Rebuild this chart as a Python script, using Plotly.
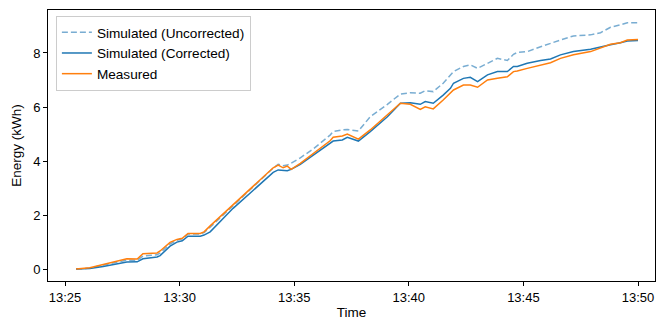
import plotly.graph_objects as go
import pandas as pd

day = "2024-01-01 "
times = ["13:25:29", "13:26:05", "13:26:40", "13:27:16", "13:27:42", "13:28:09", "13:28:24",
         "13:29:01", "13:29:09", "13:29:35", "13:29:53", "13:30:07", "13:30:22", "13:30:54",
         "13:31:04", "13:31:20", "13:32:20", "13:33:13", "13:34:05", "13:34:18", "13:34:31",
         "13:34:42", "13:34:52", "13:35:16", "13:35:50", "13:36:34", "13:36:42", "13:37:06",
         "13:37:19", "13:37:48", "13:38:19", "13:39:04", "13:39:38", "13:40:04", "13:40:30",
         "13:40:43", "13:41:04", "13:41:30", "13:41:49", "13:41:57", "13:42:23", "13:42:41",
         "13:43:00", "13:43:26", "13:43:52", "13:44:18", "13:44:34", "13:44:44", "13:45:10",
         "13:45:45", "13:46:11", "13:46:37", "13:47:11", "13:47:56", "13:48:22", "13:48:48",
         "13:49:14", "13:49:32", "13:50:00"]

measured = [0.00, 0.05, 0.17, 0.30, 0.38, 0.37, 0.57, 0.60, 0.67, 0.99, 1.10, 1.14, 1.32, 1.32,
            1.38, 1.60, 2.38, 3.05, 3.75, 3.85, 3.75, 3.81, 3.69, 3.91, 4.28, 4.75, 4.88, 4.93,
            5.00, 4.81, 5.15, 5.70, 6.14, 6.10, 5.91, 6.01, 5.93, 6.26, 6.50, 6.63, 6.81, 6.81,
            6.73, 7.00, 7.06, 7.12, 7.31, 7.33, 7.43, 7.56, 7.64, 7.80, 7.93, 8.05, 8.18, 8.32,
            8.38, 8.48, 8.50]

corrected = [0.00, 0.02, 0.10, 0.20, 0.26, 0.27, 0.38, 0.45, 0.50, 0.85, 1.00, 1.05, 1.22, 1.22,
             1.26, 1.38, 2.25, 2.92, 3.58, 3.67, 3.66, 3.64, 3.69, 3.88, 4.22, 4.65, 4.74, 4.78,
             4.88, 4.74, 5.09, 5.64, 6.14, 6.16, 6.10, 6.20, 6.14, 6.44, 6.69, 6.88, 7.06, 7.10,
             6.94, 7.19, 7.31, 7.31, 7.50, 7.50, 7.62, 7.72, 7.78, 7.93, 8.05, 8.14, 8.21, 8.30,
             8.38, 8.44, 8.46]

uncorrected = [0.00, 0.04, 0.15, 0.26, 0.33, 0.33, 0.48, 0.53, 0.60, 0.93, 1.07, 1.12, 1.30, 1.30,
               1.35, 1.55, 2.35, 3.03, 3.74, 3.88, 3.83, 3.85, 3.92, 4.12, 4.45, 4.96, 5.09, 5.15,
               5.17, 5.11, 5.64, 6.10, 6.48, 6.53, 6.51, 6.60, 6.57, 6.88, 7.20, 7.31, 7.50, 7.56,
               7.43, 7.62, 7.80, 7.72, 7.95, 8.02, 8.05, 8.23, 8.36, 8.48, 8.63, 8.67, 8.75, 8.95,
               9.04, 9.12, 9.12]

x = pd.to_datetime([day + t for t in times])

font = "Liberation Sans, Arial, sans-serif"
fig = go.Figure()
fig.add_trace(go.Scatter(x=x, y=uncorrected, mode="lines", name="Simulated (Uncorrected)",
                         line=dict(color="rgba(31,119,180,0.6)", width=1.5, dash="6px,3px")))
fig.add_trace(go.Scatter(x=x, y=corrected, mode="lines", name="Simulated (Corrected)",
                         line=dict(color="#1f77b4", width=1.5)))
fig.add_trace(go.Scatter(x=x, y=measured, mode="lines", name="Measured",
                         line=dict(color="#ff7f0e", width=1.5)))

axis_common = dict(showline=True, linecolor="black", linewidth=1, mirror=True,
                   ticks="outside", ticklen=4, tickcolor="black", showgrid=False,
                   zeroline=False, tickfont=dict(family=font, size=13, color="black"))

fig.update_layout(
    width=656, height=320,
    margin=dict(l=48, r=1, t=10, b=39),
    paper_bgcolor="white", plot_bgcolor="white",
    font=dict(family=font, size=13, color="black"),
    showlegend=True,
    legend=dict(x=0.013, y=0.978, xanchor="left", yanchor="top",
                bgcolor="rgba(255,255,255,0.8)", bordercolor="#cccccc", borderwidth=1,
                font=dict(family=font, size=13.6, color="black"),
                tracegroupgap=0, itemwidth=30),
    xaxis=dict(axis_common, type="date",
               range=[day + "13:24:15.5", day + "13:50:44.5"],
               tick0=day + "13:25:00", dtick=300000, tickformat="%H:%M",
               title=dict(text="Time", font=dict(family=font, size=13.5), standoff=4)),
    yaxis=dict(axis_common, range=[-0.44, 9.59], tickvals=[0, 2, 4, 6, 8],
               title=dict(text="Energy (kWh)", font=dict(family=font, size=13.5), standoff=8)),
)

fig.write_html("out.html")
